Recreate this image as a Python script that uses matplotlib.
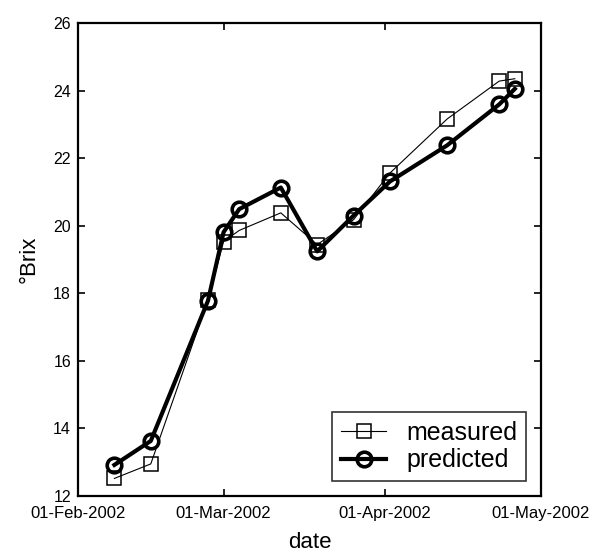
import datetime as dt

import matplotlib
matplotlib.use("Agg")
import matplotlib.dates as mdates
import matplotlib.pyplot as plt

# sampling dates (2002)
dates = [
    dt.date(2002, 2, 8), dt.date(2002, 2, 15), dt.date(2002, 2, 26),
    dt.date(2002, 3, 1), dt.date(2002, 3, 4), dt.date(2002, 3, 12),
    dt.date(2002, 3, 19), dt.date(2002, 3, 26), dt.date(2002, 4, 2),
    dt.date(2002, 4, 13), dt.date(2002, 4, 23), dt.date(2002, 4, 26),
]
measured = [12.52, 12.95, 17.80, 19.53, 19.86, 20.38, 19.44, 20.18, 21.56, 23.16, 24.28, 24.35]
predicted = [12.92, 13.63, 17.78, 19.81, 20.49, 21.13, 19.24, 20.30, 21.31, 22.38, 23.59, 24.05]

x_ticks = [dt.date(2002, 2, 1), dt.date(2002, 3, 1), dt.date(2002, 4, 1), dt.date(2002, 5, 1)]
y_ticks = [12, 14, 16, 18, 20, 22, 24, 26]

plt.rcParams["font.family"] = ["Liberation Sans", "DejaVu Sans"]

fig = plt.figure(figsize=(5.93, 5.55), dpi=100)
ax = fig.add_axes([0.1315, 0.1063, 0.7805, 0.8523])

ax.plot(dates, measured, color="black", linewidth=0.8, marker="s", markersize=10.5,
        markerfacecolor="none", markeredgewidth=1.1, label="measured", zorder=2)
ax.plot(dates, predicted, color="black", linewidth=3.0, marker="o", markersize=10.5,
        markerfacecolor="none", markeredgewidth=2.6, label="predicted", zorder=3)

ax.set_xlim(x_ticks[0], x_ticks[-1])
ax.set_ylim(12, 26)
ax.set_xticks(x_ticks)
ax.xaxis.set_major_formatter(mdates.DateFormatter("%d-%b-%Y"))
ax.set_yticks(y_ticks)

ax.tick_params(direction="in", length=5, width=1.2, top=True, right=True,
               labelsize=12, pad=5)
ax.tick_params(axis="x", pad=7)
ax.tick_params(axis="y", labelsize=11.5)
for s in ax.spines.values():
    s.set_linewidth(1.6)

ax.set_xlabel("date", fontsize=16, labelpad=8)
ax.set_ylabel("°Brix", fontsize=16, labelpad=10)

leg = ax.legend(loc="lower right", fontsize=18, frameon=True, fancybox=False,
                edgecolor="black", handlelength=1.8, borderpad=0.35,
                labelspacing=0.15, handletextpad=0.8, borderaxespad=0.6)
leg.get_frame().set_linewidth(1.2)

fig.savefig("out.png", dpi=100)
